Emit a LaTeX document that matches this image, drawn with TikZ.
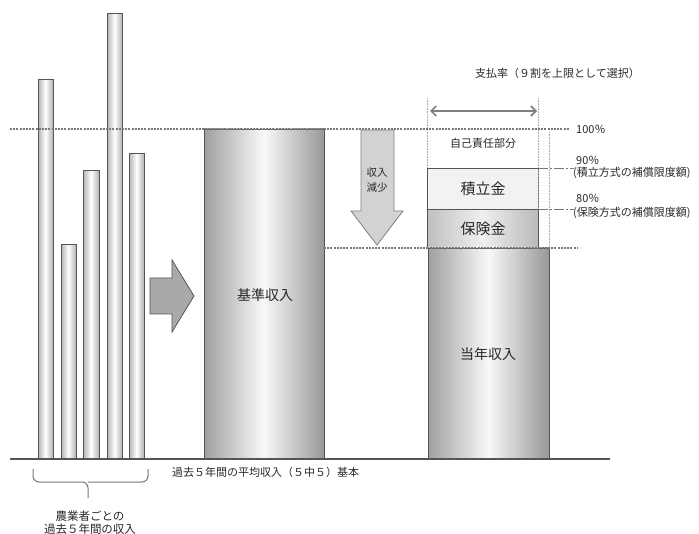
\documentclass[tikz,border=0pt]{standalone}
\usepackage{fontspec}
\setmainfont{Noto Sans CJK JP}
\usepackage{tikz}
\usetikzlibrary{arrows.meta}
\definecolor{edgegray}{RGB}{85,85,85}
\definecolor{textgray}{RGB}{40,40,40}
\definecolor{bargray}{RGB}{160,160,160}
\definecolor{arrowgray}{RGB}{169,169,169}
\tikzset{
  thinbar/.style={draw=edgegray, line width=1pt, left color=bargray!80, right color=bargray!80, middle color=white},
  bigbar/.style={draw=edgegray, line width=0.8pt, left color=bargray, right color=bargray!95!black, middle color=white!95!gray},
  levelline/.style={draw=edgegray!80, line width=1.1pt, dash pattern=on 2pt off 1.2pt},
  guide/.style={draw=gray!70, line width=0.6pt, densely dotted},
  lbl/.style={text=textgray, font=\fontsize{11}{13}\selectfont, inner sep=0pt}
}
\begin{document}
\begin{tikzpicture}[x=1pt, y=-1pt]
        \useasboundingbox (0,0) rectangle (699,534);
        % past five years, one bar per year
        \draw[thinbar] (38,80) rectangle (53,459);
        \draw[thinbar] (61,245) rectangle (76,459);
        \draw[thinbar] (83,171) rectangle (99,459);
        \draw[thinbar] (107,14) rectangle (122,459);
        \draw[thinbar] (129,154) rectangle (144,459);
        % arrow to the reference income
        \draw[draw=edgegray, fill=arrowgray, line width=0.8pt]
            (150,278) -- (172,278) -- (172,260) -- (194,296) -- (172,332) -- (172,314) -- (150,314) -- cycle;
        % reference income
        \draw[bigbar] (204,129) rectangle (324,459);
        \node[text=textgray, font=\fontsize{14}{16}\selectfont, inner sep=0pt] (kijun) at (265,295) {基準収入};
        % current year and compensation stack
        \draw[bigbar] (428,248) rectangle (549,459);
        \node[text=textgray, font=\fontsize{14}{16}\selectfont, inner sep=0pt] (tounen) at (488,354) {当年収入};
        \draw[draw=edgegray, line width=0.8pt, left color=gray!50, right color=gray!55, middle color=gray!12] (427,209) rectangle (538,248);
        \node[text=textgray, font=\fontsize{15}{17}\selectfont, inner sep=0pt] (hoken) at (483,229) {保険金};
        \draw[draw=edgegray, line width=0.8pt, fill=gray!10] (427,168) rectangle (538,209);
        \node[text=textgray, font=\fontsize{15}{17}\selectfont, inner sep=0pt] (tsumi) at (483,189) {積立金};
        \node[lbl] (jiko) at (483,143) {自己責任部分};
        % guides
        \draw[guide] (427,98) -- (427,168);
        \draw[guide] (538,98) -- (538,209);
        \draw[guide] (549,132) -- (549,248);
        \draw[levelline] (10,129) -- (570,129);
        \draw[levelline] (324,248) -- (577,248);
        \draw[draw=edgegray!80, line width=0.9pt, dash pattern=on 10pt off 2pt on 2pt off 2pt] (538,168) -- (574,168);
        \draw[draw=edgegray!80, line width=0.9pt, dash pattern=on 10pt off 2pt on 2pt off 2pt] (538,209) -- (574,209);
        % payment rate
        \coordinate (payL) at (430,111);
        \coordinate (payR) at (537,111);
        \draw[draw=gray, line width=1.6pt, {Straight Barb[length=5pt,width=10pt]}-{Straight Barb[length=5pt,width=10pt]}] (payL) -- (payR);
        \node[lbl, anchor=west] (rate) at (475,73) {支払率（９割を上限として選択）};
        \node[lbl, anchor=west] (p100) at (576,129) {100％};
        \node[lbl, anchor=west] (p90) at (576,160) {90％};
        \node[lbl, anchor=west] (p90n) at (573,173) {(積立方式の補償限度額)};
        \node[lbl, anchor=west] (p80) at (576,198) {80％};
        \node[lbl, anchor=west] (p80n) at (573,213) {(保険方式の補償限度額)};
        % income drop
        \draw[draw=gray, fill=gray!35, line width=0.8pt]
            (361,130) -- (394,130) -- (394,211) -- (403,211) -- (377,245) -- (351,211) -- (361,211) -- cycle;
        \node[text=textgray, font=\fontsize{10.5}{15}\selectfont, align=center, inner sep=0pt] (drop) at (377,180) {収入\\減少};
        % base line and labels
        \draw[draw=edgegray, line width=1.2pt] (10,459) -- (610,459);
        \node[lbl, anchor=west] (avg) at (172,472) {過去５年間の平均収入（５中５）基本};
        \draw[draw=edgegray!80, line width=1pt, rounded corners=6pt]
            (33,469) -- (33,482) -- (88,482) -- (88,498);
        \draw[draw=edgegray!80, line width=1pt, rounded corners=6pt]
            (148,469) -- (148,482) -- (88,482);
        \node[text=textgray, font=\fontsize{11.5}{13}\selectfont, align=center, inner sep=0pt] (farmer) at (90,523) {農業者ごとの\\過去５年間の収入};
    \end{tikzpicture}
\end{document}
